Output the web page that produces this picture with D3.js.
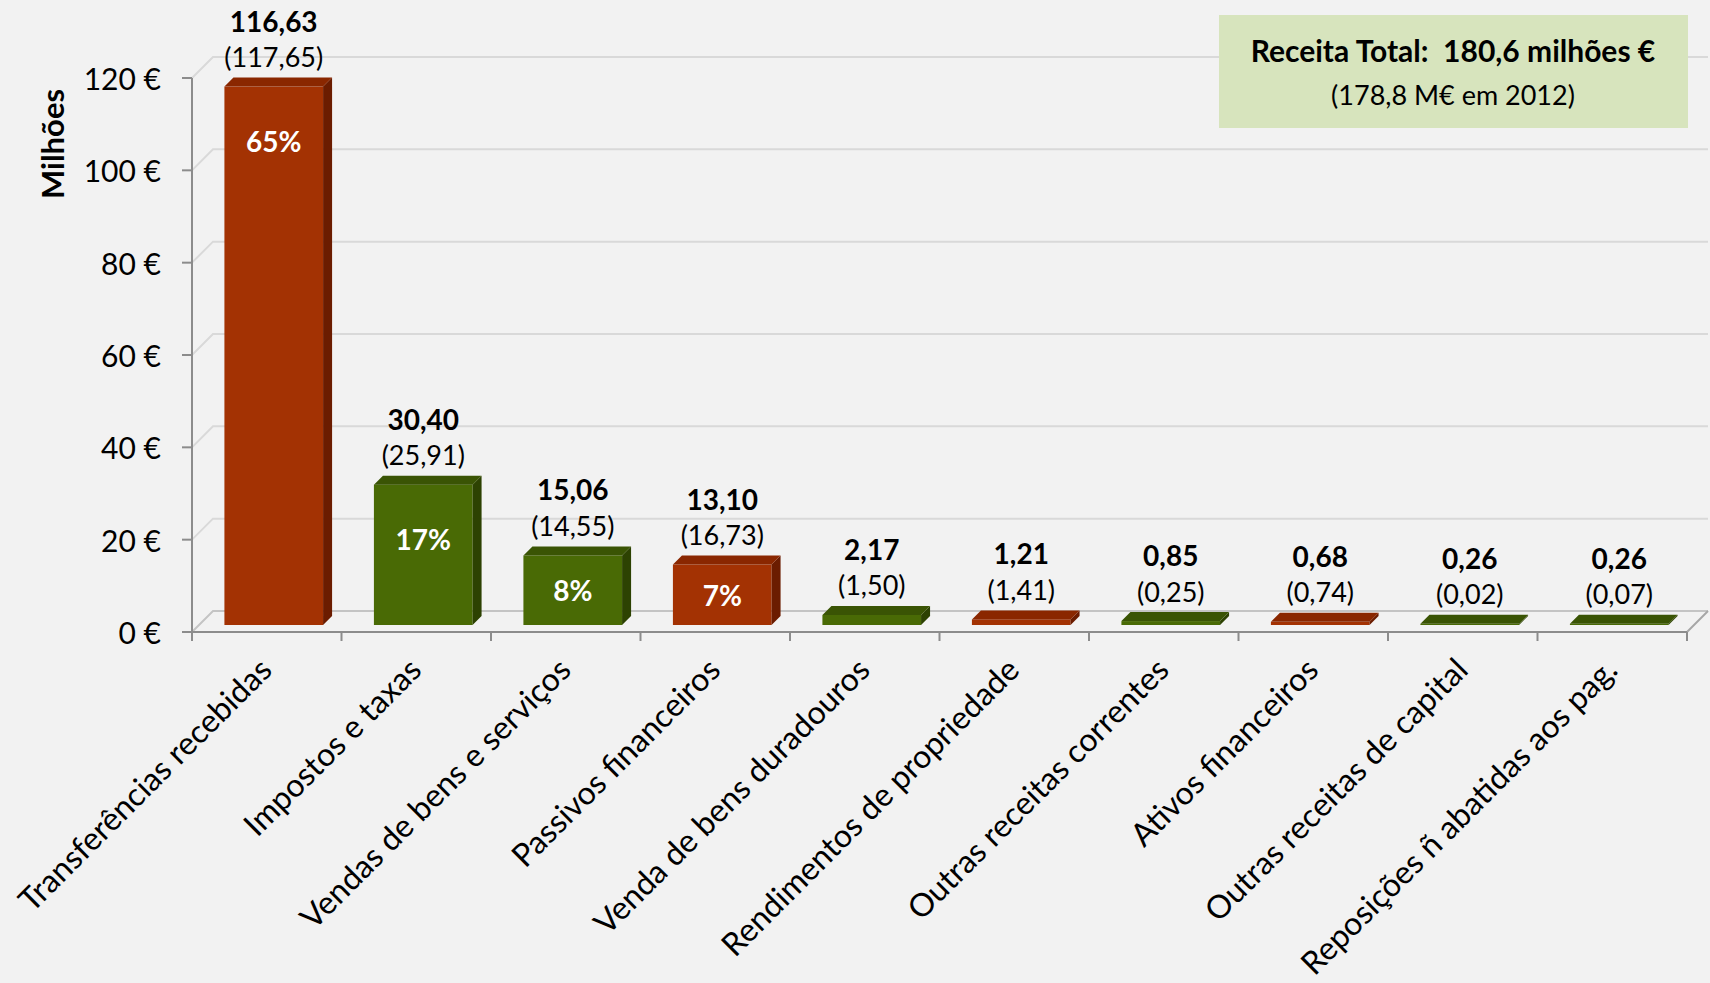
<!DOCTYPE html>
<html>
<head>
<meta charset="utf-8">
<script src="https://cdn.jsdelivr.net/npm/d3@7"></script>
<style>
  body { margin: 0; background: #f2f2f2; }
  text { font-family: Lato, 'Open Sans', sans-serif; fill: #000; white-space: pre; }
</style>
</head>
<body>
<div id="chart"></div>
<script>
const categories = [
  'Transferências recebidas',
  'Impostos e taxas',
  'Vendas de bens e serviços',
  'Passivos financeiros',
  'Venda de bens duradouros',
  'Rendimentos de propriedade',
  'Outras receitas correntes',
  'Ativos financeiros',
  'Outras receitas de capital',
  'Reposições ñ abatidas aos pag.',
];
const values2013 = [116.63, 30.4, 15.06, 13.1, 2.17, 1.21, 0.85, 0.68, 0.26, 0.26];
const values2012 = [117.65, 25.91, 14.55, 16.73, 1.5, 1.41, 0.25, 0.74, 0.02, 0.07];
const shareLabels = ['65%', '17%', '8%', '7%', '', '', '', '', '', ''];
const barTones = ['red', 'green', 'green', 'red', 'green', 'red', 'green', 'red', 'green', 'green'];
const yTicks = [0, 20, 40, 60, 80, 100, 120];
const totalTitle = 'Receita Total:  180,6 milhões €';
const totalNote = '(178,8 M€ em 2012)';

const width = 1710;
const height = 983;

const palette = {
  red: { front: '#a33203', top: '#8a2700', side: '#6b1c00' },
  green: { front: '#496a05', top: '#3a5404', side: '#2d4202' },
};

const pt = d3.formatLocale({ decimal: ',', thousands: '.', grouping: [3], currency: ['', ''] });
const fmt = pt.format('.2f');

const x0 = 192, x1 = 1687;
const depth = 21;      // wall / floor depth
const barFront = 7;    // bar front face depth
const barDepth = 9;    // bar thickness in depth

const x = d3.scaleBand().domain(categories).range([x0, x1]).paddingInner(0.34).paddingOuter(0.17);
const xEdge = d3.scaleBand().domain(categories).range([x0, x1]).padding(0);
const y = d3.scaleLinear().domain([0, 120]).range([632, 78]);

const svg = d3.select('#chart').append('svg').attr('width', width).attr('height', height);

// back walls / gridlines
const grid = svg.append('g').attr('fill', 'none').attr('stroke-width', 2);
yTicks.forEach((t) => {
  grid.append('polyline')
    .attr('points', [[x0, y(t)], [x0 + depth, y(t) - depth], [x1 + depth, y(t) - depth]].join(' '))
    .attr('stroke', t === 0 ? '#c4c4c4' : '#d9d9d9');
});
grid.append('line')
  .attr('x1', x1).attr('y1', y(0)).attr('x2', x1 + depth).attr('y2', y(0) - depth)
  .attr('stroke', '#a6a6a6');

// bars
const bars = svg.append('g').selectAll('g').data(categories).join('g');
bars.each(function (c, i) {
  const g = d3.select(this);
  const col = palette[barTones[i]];
  const w = x.bandwidth();
  const xf = x(c) + barFront;
  const yb = y(0) - barFront;
  const yt = y(values2013[i]) - barFront;
  const d = barDepth;
  g.append('rect').attr('x', xf).attr('y', yt).attr('width', w).attr('height', yb - yt).attr('fill', col.front);
  g.append('polygon').attr('fill', col.side)
    .attr('points', [[xf + w, yt], [xf + w + d, yt - d], [xf + w + d, yb - d], [xf + w, yb]].join(' '));
  g.append('polygon').attr('fill', col.top)
    .attr('points', [[xf, yt], [xf + d, yt - d], [xf + w + d, yt - d], [xf + w, yt]].join(' '));

  const cx = xf + w / 2;
  const topBack = yt - d;
  g.append('text').attr('x', cx).attr('y', topBack - 57).attr('text-anchor', 'middle')
    .attr('dominant-baseline', 'central').attr('font-size', 28).attr('font-weight', 700)
    .text(fmt(values2013[i]));
  g.append('text').attr('x', cx).attr('y', topBack - 21).attr('text-anchor', 'middle')
    .attr('dominant-baseline', 'central').attr('font-size', 27)
    .text(`(${fmt(values2012[i])})`);
  if (shareLabels[i]) {
    const py = Math.min((yt + yb) / 2, yt + 54);
    g.append('text').attr('x', cx).attr('y', py).attr('text-anchor', 'middle')
      .attr('dominant-baseline', 'central').attr('font-size', 28).attr('font-weight', 700)
      .style('fill', '#fff').text(shareLabels[i]);
  }
});

// axes
const axis = svg.append('g').attr('stroke', '#8c8c8c').attr('stroke-width', 2).attr('fill', 'none');
axis.append('line').attr('x1', x0).attr('y1', y(120)).attr('x2', x0).attr('y2', y(0));
axis.append('line').attr('x1', x0).attr('y1', y(0)).attr('x2', x1).attr('y2', y(0));
yTicks.forEach((t) => {
  axis.append('line').attr('x1', x0 - 10).attr('y1', y(t)).attr('x2', x0).attr('y2', y(t));
});
categories.forEach((c) => {
  axis.append('line').attr('x1', xEdge(c)).attr('y1', y(0)).attr('x2', xEdge(c)).attr('y2', y(0) + 9);
});
axis.append('line').attr('x1', x1).attr('y1', y(0)).attr('x2', x1).attr('y2', y(0) + 9);

svg.append('g').selectAll('text').data(yTicks).join('text')
  .attr('x', x0 - 31).attr('y', (d) => y(d)).attr('text-anchor', 'end')
  .attr('dominant-baseline', 'central').attr('font-size', 30)
  .text((d) => `${d} €`);

svg.append('text')
  .attr('transform', 'translate(52,144) rotate(-90)')
  .attr('text-anchor', 'middle').attr('dominant-baseline', 'central')
  .attr('font-size', 31).attr('font-weight', 700).text('Milhões');

svg.append('g').selectAll('text').data(categories).join('text')
  .attr('transform', (c) => `translate(${xEdge(c) + xEdge.bandwidth() / 2 + 7},672) rotate(-45)`)
  .attr('text-anchor', 'end').attr('font-size', 32)
  .text((c) => c);

// total box
const box = svg.append('g');
box.append('rect').attr('x', 1219).attr('y', 15).attr('width', 469).attr('height', 113).attr('fill', '#d7e4bd');
box.append('text').attr('x', 1453).attr('y', 50).attr('text-anchor', 'middle')
  .attr('dominant-baseline', 'central').attr('font-size', 30).attr('font-weight', 700)
  .text(totalTitle);
box.append('text').attr('x', 1453).attr('y', 94).attr('text-anchor', 'middle')
  .attr('dominant-baseline', 'central').attr('font-size', 27)
  .text(totalNote);
</script>
</body>
</html>
